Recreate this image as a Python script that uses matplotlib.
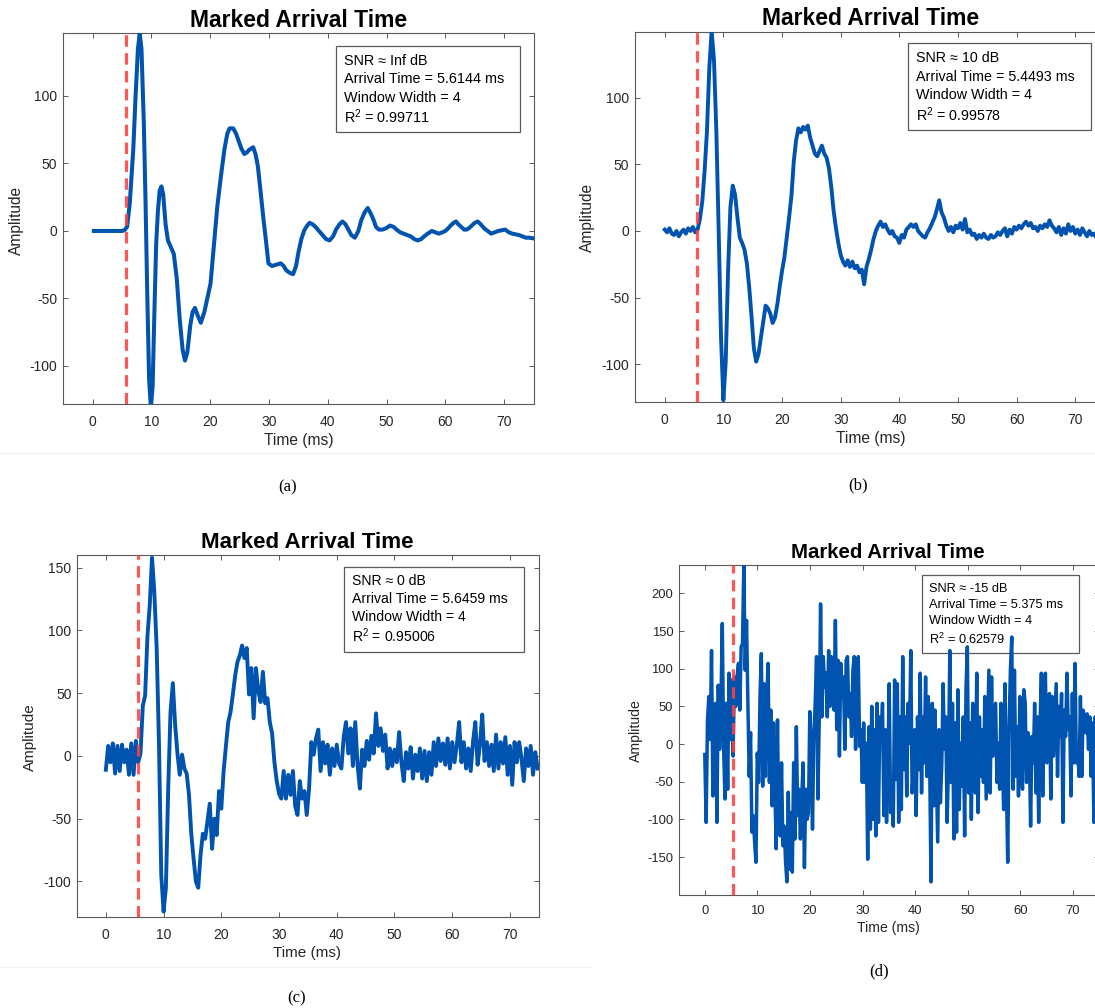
import numpy as np
import matplotlib
matplotlib.use('Agg')
import matplotlib.pyplot as plt
from matplotlib.patches import Rectangle
from matplotlib.lines import Line2D

plt.rcParams['font.family'] = ['Liberation Sans', 'DejaVu Sans']
plt.rcParams['mathtext.fontset'] = 'custom'
plt.rcParams['mathtext.rm'] = 'Liberation Sans'
plt.rcParams['mathtext.it'] = 'Liberation Sans:italic'
plt.rcParams['mathtext.bf'] = 'Liberation Sans:bold'
plt.rcParams['axes.unicode_minus'] = False

W, H = 1095, 1008

# ---------------- data ----------------
# (a) SNR = Inf (clean waveform)
time_a = [0.2, 5.0, 5.4, 5.85, 6.3, 6.9, 7.3, 7.7, 8.0, 8.3,
          8.7, 9.0, 9.3, 9.6, 9.9, 10.2, 10.5, 10.8, 11.1, 11.4,
          11.7, 12.0, 12.4, 12.8, 13.2, 13.8, 14.3, 14.8, 15.3, 15.7,
          16.1, 16.6, 17.0, 17.4, 17.9, 18.4, 19.0, 19.5, 20.05, 20.6,
          21.2, 21.8, 22.4, 22.9, 23.3, 23.9, 24.4, 24.8, 25.3, 25.8,
          26.2, 26.6, 27.3, 27.7, 28.1, 28.5, 29.0, 29.5, 29.9, 30.5,
          31.2, 32.0, 32.5, 32.9, 33.5, 34.1, 34.6, 35.0, 35.5, 36.0,
          36.5, 36.9, 37.4, 37.9, 38.5, 39.1, 39.7, 40.3, 40.9, 41.4,
          42.0, 42.5, 43.0, 43.5, 44.0, 44.6, 45.2, 45.7, 46.3, 46.8,
          47.3, 47.8, 48.2, 48.7, 49.3, 49.9, 50.6, 51.2, 51.7, 52.3,
          52.9, 53.5, 54.1, 54.7, 55.3, 55.9, 56.4, 57.0, 57.7, 58.3,
          58.9, 59.5, 60.0, 60.5, 60.9, 61.4, 61.8, 62.2, 62.7, 63.2,
          63.6, 64.0, 64.5, 65.0, 65.5, 66.0, 66.6, 67.2, 67.8, 68.4,
          69.0, 69.6, 70.2, 70.8, 71.4, 72.0, 72.5, 73.1, 73.7, 74.3,
          75.0]
amp_a = [0, 0, 0.5, 3, 20, 60, 100, 135, 146, 135,
         80, 20, -50, -110, -131, -115, -60, -10, 15, 30,
         33, 27, 5, -7, -11, -17, -35, -65, -88, -96,
         -90, -70, -60, -57, -63, -68, -60, -50, -39, -12,
         18, 40, 60, 72, 76, 76, 72, 67, 61, 57,
         58, 60, 62, 57, 48, 32, 11, -8, -24, -26,
         -25, -24, -26, -29, -31, -32, -26, -16, -6, 0.5,
         4, 6, 5, 3, 0, -3, -6, -7, -4, 1,
         5, 7, 5, 1, -3, -5, 0, 8, 14, 17,
         13, 8, 3, 1, 1, 2, 4, 3, 1, -1,
         -2, -3, -4, -6, -7, -6, -4, -2, 0, -1,
         -2, -1, 0, 2, 4, 6, 7, 5, 3, 1,
         1, 2, 4, 6, 7, 5, 2, 0, -2, -1,
         0, 0.5, 1, -1, -2, -2.5, -3, -4, -5, -5,
         -5.5]

# (b) SNR = 10 dB, sampled every 0.4 ms
dt_b = 0.4
amp_b = [1, -1, 2, -2, -3, 0, -4, -1, 1, -2,
         2, 0, 3, -1, 1, 9, 22, 45, 75, 122,
         150, 128, 75, 0, -80, -127, -98, -30, 18, 34,
         27, 10, -5, -9, -14, -24, -42, -64, -88, -98,
         -92, -80, -68, -56, -58, -62, -69, -65, -55, -42,
         -30, -20, -5, 10, 26, 52, 68, 77, 74, 78,
         76, 79, 70, 64, 58, 56, 60, 64, 58, 55,
         47, 33, 15, 2, -9, -18, -23, -26, -22, -27,
         -23, -28, -26, -31, -29, -40, -27, -21, -14, -6,
         0, 4, 7, 3, 5, 1, -2, 0, -4, -5,
         -9, -3, -5, 1, 3, 5, 3, 5, 0, -2,
         -4, -5, -1, 2, 6, 10, 16, 23, 14, 10,
         4, 0, 3, -1, 4, 2, 6, 1, 9, -1,
         1, -3, -2, -6, -3, -5, -2, -5, -6, -3,
         -5, -4, -1, -3, 0, 2, -4, 1, -2, 3,
         1, 4, 2, 5, 7, 4, 6, 2, 3, 0,
         4, 2, 5, 3, 8, 4, 2, -1, 3, -3,
         2, -2, 5, 0, 3, -2, 1, -3, 2, -1,
         -4, 0, -3, -2, -5, -3, -4, -2]

# (c) SNR = 0 dB, sampled every 0.4 ms
dt_c = 0.4
amp_c = [-11, 8, -5, 10, -14, 8, -12, 9, -5, 5,
         -15, 10, -15, 12, -5, 2, 40, 48, 95, 120,
         158, 130, 86, 10, -95, -124, -105, -26, 35, 58,
         25, 2, -15, 1, -10, -14, -31, -62, -82, -100,
         -105, -79, -62, -66, -52, -38, -74, -50, -63, -28,
         -42, -12, 8, 27, 35, 49, 64, 75, 80, 88,
         78, 86, 49, 70, 30, 70, 52, 43, 67, 42,
         46, 27, 18, -5, -20, -30, -34, -12, -34, -15,
         -31, -12, -40, -47, -20, -34, -28, -47, -26, 11,
         1, 14, 21, -12, 11, -6, 9, -15, 6, -8,
         9, -6, -10, 15, 27, 2, 22, -8, 27, -7,
         -26, 5, -8, 12, -3, 16, 2, 34, 8, 22,
         4, 17, -10, 6, -8, 5, -5, 19, -5, -20,
         3, -10, 7, -18, 1, -12, 6, -18, 4, -20,
         3, -15, 11, -8, 14, -4, 10, -7, 14, -10,
         11, -5, 9, 27, -5, 11, -10, 6, -12, 11,
         27, -7, 9, 33, -4, 11, -8, 9, -12, 17,
         -10, 11, -6, 15, -15, 8, -23, 11, -5, 11,
         -2, -20, 6, -8, 8, -15, 3, -10]

# (d) SNR = -15 dB, samples spanning 0 .. 74.5 ms
t_end_d = 74.5
amp_d = [-14, -104, 32, 63, 6, 124, -69, 50, 54, -104, 78, -7, 54, 160, -7, -73,
         54, -60, 94, 6, 85, -16, 89, 50, 89, 107, 45, 129, 133, 239, 98, 164,
         54, -43, 15, -117, -95, -130, -157, -12, -51, 63, 120, -56, 80, -43, 58, 107,
         -51, 45, -82, 28, -51, -139, 32, -113, -122, -25, -135, -109, -157, -183, -64, -166,
         -91, -170, -25, -126, 23, -95, -60, -126, -73, -25, -164, -60, -100, -91, 43, 1,
         -113, 10, 54, 116, -73, 32, 186, 36, 116, 76, 94, 36, 124, 50, 116, 76,
         45, 164, 19, 111, -16, 107, 63, 89, -7, 111, 116, 36, 67, 10, 98, 116,
         -7, 89, 116, -3, 19, -51, 28, -51, 1, -153, 23, -113, 50, -100, 19, -122,
         54, -104, 36, 10, 54, -95, 19, -104, -25, 80, -91, -69, -109, 85, -47, 80,
         -104, 36, -87, 116, -34, 36, -69, 54, 1, 124, -65, -34, 19, -95, 36, -34,
         94, -65, 36, -25, 89, -43, 63, -16, -183, 54, -82, 45, -43, -130, 19, -78,
         -29, 80, -7, 36, -104, -25, 124, -51, 54, -126, 28, -117, 72, -87, 1, -56,
         36, -122, 72, 129, -65, 28, -100, 54, 19, -65, 94, -91, 36, -43, 19, -51,
         63, -73, 10, 98, -65, 89, -16, 19, 54, -51, 1, -60, 54, -21, -87, 80,
         -51, -157, 19, 98, 142, -60, 98, -43, 23, -69, 63, -25, -60, 72, 54, -51,
         15, 1, -109, 10, -25, 54, -65, 36, -104, 23, 94, -69, 54, 94, -25, 1,
         67, -73, 63, -16, 32, 80, -43, 50, 10, 67, -104, 45, 10, 94, 19, 36,
         -69, 67, -25, 107, -25, -7, -43, 63, -43, 45, 36, 15, 40, -7, 36, -43,
         28, -104, 36, -3]

arrival_ms = [5.6144, 5.4493, 5.6459, 5.375]
snr_db = ['Inf', '10', '0', '-15']
r_squared = ['0.99711', '0.99578', '0.95006', '0.62579']
window_width = 4
sub_labels = ['(a)', '(b)', '(c)', '(d)']
x_ticks = [0, 10, 20, 30, 40, 50, 60, 70]
y_ticks = [[-100, -50, 0, 50, 100],
           [-100, -50, 0, 50, 100],
           [-100, -50, 0, 50, 100, 150],
           [-150, -100, -50, 0, 50, 100, 150, 200]]
y_limits = [(-128.4, 146.4), (-128.5, 149.0), (-128.3, 160.5), (-200.4, 237.6)]

series = [
    (np.array(time_a), np.array(amp_a)),
    (np.arange(len(amp_b)) * dt_b, np.array(amp_b)),
    (np.arange(len(amp_c)) * dt_c, np.array(amp_c)),
    (np.linspace(0, t_end_d, len(amp_d)), np.array(amp_d)),
]

# ---------------- layout (pixels) ----------------
layout = [
    dict(ax=(63.3, 533.5, 33.3, 404.3), title=(298.6, 20.7), xl=(298.3, 441), yl=(16, 220),
         sub=(287.3, 487.3), box=(336, 520, 45.7, 132.3), tx=344,
         base=[65, 83.3, 101.7, 122.7], fs_t=16.5, fs_tick=10, fs_lab=11.2, fs_box=10.4,
         xpad=7.7, ypad=4.3, lw=2.9),
    dict(ax=(635.4, 1104.6, 32.3, 402.3), title=(870.2, 18.3), xl=(870.6, 438.3), yl=(587.6, 217),
         sub=(858, 485), box=(907.8, 1091.4, 42.7, 130), tx=915.6,
         base=[62.3, 80.7, 98.9, 120.7], fs_t=16.5, fs_tick=10, fs_lab=11.2, fs_box=10.3,
         xpad=7.5, ypad=4.4, lw=2.8),
    dict(ax=(77, 538.8, 554.5, 917), title=(307, 542.7), xl=(307, 953.3), yl=(30.4, 736.7),
         sub=(296.4, 998.3), box=(344, 524.3, 566.7, 651.7), tx=351.8,
         base=[585.3, 603.3, 621, 642.3], fs_t=16.1, fs_tick=10, fs_lab=11, fs_box=10.1,
         xpad=7.9, ypad=4.0, lw=2.8),
    dict(ax=(678.5, 1099.2, 565, 895), title=(888, 553), xl=(888, 927.7), yl=(636, 730.7),
         sub=(878.7, 971.7), box=(922, 1078.7, 575, 652.7), tx=928.7,
         base=[591.8, 608.2, 624.5, 644.3], fs_t=14.7, fs_tick=9.4, fs_lab=10.1, fs_box=9.2,
         xpad=7.4, ypad=3.8, lw=2.5),
]

BLUE = '#0053AE'
RED = '#FF4040'
GRAY = '#5a5a5a'
TXT = '#262626'

fig = plt.figure(figsize=(W / 100, H / 100), dpi=100)
fig.patch.set_facecolor('white')

def fx(x):
    return x / W

def fy(y):
    return 1 - y / H

# faint image separators
fig.add_artist(Line2D([0, 1], [fy(453)] * 2, color='#efefef', lw=0.8, transform=fig.transFigure))
fig.add_artist(Line2D([0, fx(590)], [fy(967)] * 2, color='#f2f2f2', lw=0.8, transform=fig.transFigure))

for i, L in enumerate(layout):
    l, r, t, b = L['ax']
    ax = fig.add_axes([fx(l), fy(b), (r - l) / W, (b - t) / H])
    tt, yy = series[i]
    ax.plot(tt, yy, color=BLUE, lw=L['lw'], zorder=3, solid_joinstyle='round')
    ax.axvline(arrival_ms[i], color=RED, lw=2.3, ls=(0, (3.6, 2.0)), alpha=0.88, zorder=4)
    ax.set_xlim(-5, 75)
    ax.set_ylim(*y_limits[i])
    ax.set_xticks(x_ticks)
    ax.set_xticklabels([str(v) for v in x_ticks])
    ax.set_yticks(y_ticks[i])
    ax.set_yticklabels([str(v) for v in y_ticks[i]])
    ax.tick_params(direction='in', length=3.6, width=0.7, color=GRAY, top=True, right=True,
                   labelsize=L['fs_tick'], labelcolor=TXT)
    ax.tick_params(axis='x', pad=L['xpad'])
    ax.tick_params(axis='y', pad=L['ypad'])
    for sp in ax.spines.values():
        sp.set_color(GRAY)
        sp.set_linewidth(0.8)

    # annotation box (drawn beneath the trace)
    bx0, bx1, by0, by1 = L['box']
    rect = Rectangle((fx(bx0), fy(by1)), (bx1 - bx0) / W, (by1 - by0) / H,
                     transform=fig.transFigure, facecolor='white', edgecolor=GRAY,
                     lw=0.9, zorder=2, clip_on=False)
    ax.add_patch(rect)
    lines = ['SNR \u2248 %s dB' % snr_db[i],
             'Arrival Time = %s ms' % ('%g' % arrival_ms[i]),
             'Window Width = %d' % window_width,
             r'R$^2$ = ' + r_squared[i]]
    for s, base in zip(lines, L['base']):
        ax.text(fx(L['tx']), fy(base), s, transform=fig.transFigure, ha='left',
                va='baseline', fontsize=L['fs_box'], color='black', zorder=2.5, clip_on=False)

    fig.text(fx(L['title'][0]), fy(L['title'][1]), 'Marked Arrival Time', ha='center',
             va='center', fontsize=L['fs_t'], fontweight='bold', color='black')
    fig.text(fx(L['xl'][0]), fy(L['xl'][1]), 'Time (ms)', ha='center', va='center',
             fontsize=L['fs_lab'], color=TXT)
    fig.text(fx(L['yl'][0]), fy(L['yl'][1]), 'Amplitude', ha='center', va='center',
             rotation=90, fontsize=L['fs_lab'], color=TXT)
    fig.text(fx(L['sub'][0]), fy(L['sub'][1]), sub_labels[i], ha='center', va='center',
             fontsize=12, family=['Liberation Serif', 'DejaVu Serif'], color='black')

fig.savefig('out.png', dpi=100, facecolor='white')
